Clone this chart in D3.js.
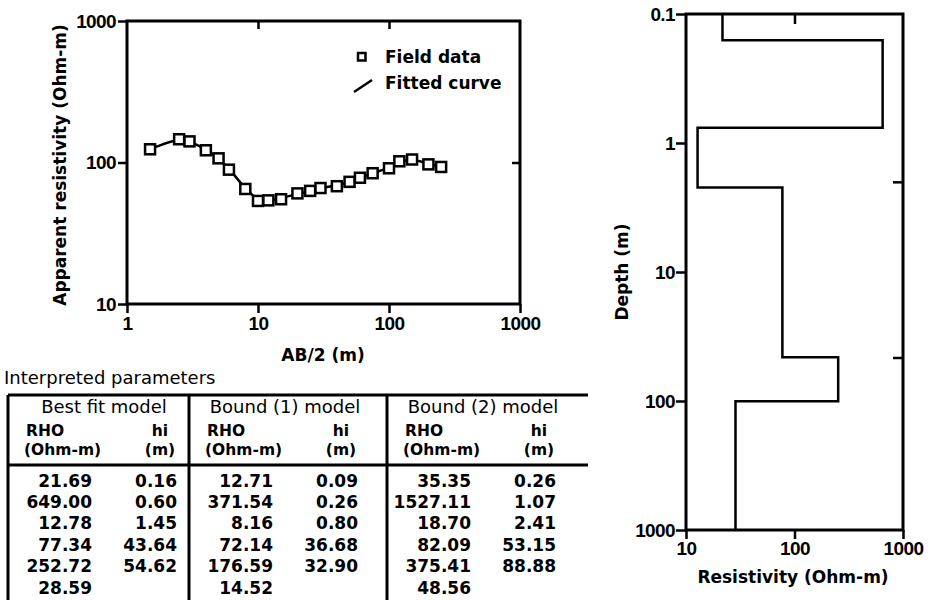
<!DOCTYPE html>
<html>
<head>
<meta charset="utf-8">
<script src="https://cdn.jsdelivr.net/npm/d3@7"></script>
<style>
  html, body { margin: 0; padding: 0; background: #fff; }
  svg { display: block; }
  .tick text { font-family: "Liberation Sans", Arial, sans-serif; font-weight: bold; font-size: 19px; letter-spacing: -0.6px; fill: #000; }
  .tick line { stroke: #000; stroke-width: 2.5px; }
  .title { font-family: "DejaVu Sans", sans-serif; font-weight: bold; font-size: 17px; fill: #000; }
  .tbl-head { font-family: "DejaVu Sans", sans-serif; font-size: 18px; fill: #000; }
  .tbl-sub { font-family: "DejaVu Sans", sans-serif; font-weight: bold; font-size: 15.5px; fill: #000; }
  .tbl-num { font-family: "DejaVu Sans", sans-serif; font-weight: bold; font-size: 17px; fill: #000; }
</style>
</head>
<body>
<svg id="chart" width="930" height="600"></svg>
<script>
// ---------------- data ----------------
const fieldAB  = [1.5, 2.5, 3, 4, 5, 6, 8, 10, 12, 15, 20, 25, 30, 40, 50, 60, 75, 100, 120, 150, 200, 250];
const fieldRho = [124, 146, 141, 122, 107, 89, 65, 53.5, 54, 55, 60.5, 63, 66, 68, 73, 78, 84, 91, 102, 105, 97, 93];
const fitAB    = [1.5, 2.5, 3, 4, 5, 6, 8, 10, 12, 15, 20, 25, 30, 40, 50, 60, 75, 100, 120, 150, 200, 250];
const fitRho   = [124, 144, 140, 123, 106, 90, 66, 55, 54, 56, 60, 63, 66, 69, 73, 78, 84, 92, 100, 104, 98, 93];
const soundXTicks = [1, 10, 100, 1000];
const soundYTicks = [10, 100, 1000];
const soundTopTicks = [10, 100];
const soundRightTicks = [100];

const layerRho = [21.69, 649.00, 12.78, 77.34, 252.72, 28.59];
const layerH   = [0.16, 0.60, 1.45, 43.64, 54.62];
const resTicks = [10, 100, 1000];
const depthTicks = [0.1, 1, 10, 100, 1000];
const resTopTicks = [100];
const depthRightTicks = [2, 46];

const modelNames = ["Best fit model", "Bound (1) model", "Bound (2) model"];
const bestRho  = [21.69, 649.00, 12.78, 77.34, 252.72, 28.59];
const bestH    = [0.16, 0.60, 1.45, 43.64, 54.62];
const bound1Rho = [12.71, 371.54, 8.16, 72.14, 176.59, 14.52];
const bound1H   = [0.09, 0.26, 0.80, 36.68, 32.90];
const bound2Rho = [35.35, 1527.11, 18.70, 82.09, 375.41, 48.56];
const bound2H   = [0.26, 1.07, 2.41, 53.15, 88.88];

// ---------------- drawing ----------------
const svg = d3.select("#chart");
const fmtTick = d => String(d);

// ===== Sounding curve (top-left) =====
const sx = d3.scaleLog().domain([1, 1000]).range([127, 520]);
const sy = d3.scaleLog().domain([10, 1000]).range([304, 21]);

const gS = svg.append("g");
gS.append("g").attr("transform", "translate(0,304)")
  .call(d3.axisBottom(sx).tickValues(soundXTicks).tickFormat(fmtTick).tickSize(9).tickPadding(4))
  .call(g => g.select(".domain").remove());
gS.append("g").attr("transform", "translate(127,0)")
  .call(d3.axisLeft(sy).tickValues(soundYTicks).tickFormat(fmtTick).tickSize(9).tickPadding(2))
  .call(g => g.select(".domain").remove());
gS.append("g").attr("transform", "translate(0,21)")
  .call(d3.axisTop(sx).tickValues(soundTopTicks).tickFormat("").tickSize(-8))
  .call(g => g.select(".domain").remove());
gS.append("g").attr("transform", "translate(520,0)")
  .call(d3.axisRight(sy).tickValues(soundRightTicks).tickFormat("").tickSize(-8))
  .call(g => g.select(".domain").remove());
gS.append("rect").attr("x", 127).attr("y", 21).attr("width", 520 - 127).attr("height", 304 - 21)
  .attr("fill", "none").attr("stroke", "#000").attr("stroke-width", 3);

const fitData = fitAB.map((a, i) => [a, fitRho[i]]);
gS.append("path").datum(fitData)
  .attr("fill", "none").attr("stroke", "#000").attr("stroke-width", 2.5)
  .attr("d", d3.line().x(d => sx(d[0])).y(d => sy(d[1])).curve(d3.curveCatmullRom));

const fieldData = fieldAB.map((a, i) => [a, fieldRho[i]]);
gS.selectAll("rect.pt").data(fieldData).enter().append("rect").attr("class", "pt")
  .attr("x", d => sx(d[0]) - 5).attr("y", d => sy(d[1]) - 5)
  .attr("width", 10).attr("height", 10)
  .attr("fill", "#fff").attr("stroke", "#000").attr("stroke-width", 2.5);

// legend
gS.append("rect").attr("x", 358).attr("y", 53).attr("width", 7.5).attr("height", 7.5)
  .attr("fill", "#fff").attr("stroke", "#000").attr("stroke-width", 2.5);
gS.append("text").attr("class", "title").attr("x", 385).attr("y", 63).text("Field data");
gS.append("line").attr("x1", 354).attr("y1", 92).attr("x2", 372).attr("y2", 80)
  .attr("stroke", "#000").attr("stroke-width", 2.5);
gS.append("text").attr("class", "title").attr("x", 385).attr("y", 89).text("Fitted curve");

gS.append("text").attr("class", "title").attr("x", 323).attr("y", 361).attr("text-anchor", "middle").text("AB/2 (m)");
gS.append("text").attr("class", "title").attr("text-anchor", "middle")
  .attr("transform", "translate(66,165) rotate(-90)").text("Apparent resistivity (Ohm-m)");

// ===== Layered model (right) =====
const rx = d3.scaleLog().domain([10, 1000]).range([686, 903]);
const ry = d3.scaleLog().domain([0.1, 1000]).range([14, 530]);
const gR = svg.append("g");
gR.append("g").attr("transform", "translate(0,530)")
  .call(d3.axisBottom(rx).tickValues(resTicks).tickFormat(fmtTick).tickSize(9).tickPadding(3))
  .call(g => g.select(".domain").remove());
gR.append("g").attr("transform", "translate(686,0)")
  .call(d3.axisLeft(ry).tickValues(depthTicks).tickFormat(fmtTick).tickSize(10).tickPadding(1))
  .call(g => g.select(".domain").remove());
gR.append("g").attr("transform", "translate(0,14)")
  .call(d3.axisTop(rx).tickValues(resTopTicks).tickFormat("").tickSize(-10))
  .call(g => g.select(".domain").remove());
gR.append("g").attr("transform", "translate(903,0)")
  .call(d3.axisRight(ry).tickValues(depthRightTicks).tickFormat("").tickSize(-10))
  .call(g => g.select(".domain").remove());
gR.append("rect").attr("x", 686).attr("y", 14).attr("width", 903 - 686).attr("height", 530 - 14)
  .attr("fill", "none").attr("stroke", "#000").attr("stroke-width", 3);

// step profile from layer resistivities and thicknesses
const bounds = [0.1];
layerH.forEach((h, i) => bounds.push(d3.sum(layerH.slice(0, i + 1))));
bounds.push(1000);
const stepPts = [];
layerRho.forEach((r, i) => { stepPts.push([r, bounds[i]]); stepPts.push([r, bounds[i + 1]]); });
gR.append("path").datum(stepPts)
  .attr("fill", "none").attr("stroke", "#000").attr("stroke-width", 2.5)
  .attr("d", d3.line().x(d => rx(d[0])).y(d => ry(d[1])));

gR.append("text").attr("class", "title").attr("x", 793).attr("y", 583).attr("text-anchor", "middle").text("Resistivity (Ohm-m)");
gR.append("text").attr("class", "title").attr("text-anchor", "middle")
  .attr("transform", "translate(628,272) rotate(-90)").text("Depth (m)");

// ===== Table =====
const gT = svg.append("g");
gT.append("text").attr("class", "tbl-head").attr("x", 4).attr("y", 384).text("Interpreted parameters");
const colX = [8, 189, 387];
const tableTop = 395, sepY = 465, tableBot = 604;
const models = [[bestRho, bestH], [bound1Rho, bound1H], [bound2Rho, bound2H]];
const f2 = d3.format(".2f");
gT.append("line").attr("x1", 8).attr("x2", 588).attr("y1", tableTop).attr("y2", tableTop).attr("stroke", "#000").attr("stroke-width", 3);
gT.append("line").attr("x1", 8).attr("x2", 588).attr("y1", sepY).attr("y2", sepY).attr("stroke", "#000").attr("stroke-width", 3);
colX.forEach(cx => gT.append("line").attr("x1", cx).attr("x2", cx).attr("y1", tableTop).attr("y2", tableBot).attr("stroke", "#000").attr("stroke-width", 3));

models.forEach((m, k) => {
  const cx = colX[k];
  gT.append("text").attr("class", "tbl-head").attr("x", cx + 96).attr("y", 413).attr("text-anchor", "middle").text(modelNames[k]);
  gT.append("text").attr("class", "tbl-sub").attr("x", cx + 18).attr("y", 436).text("RHO");
  gT.append("text").attr("class", "tbl-sub").attr("x", cx + 16).attr("y", 455).text("(Ohm-m)");
  gT.append("text").attr("class", "tbl-sub").attr("x", cx + 152).attr("y", 436).attr("text-anchor", "middle").text("hi");
  gT.append("text").attr("class", "tbl-sub").attr("x", cx + 152).attr("y", 455).attr("text-anchor", "middle").text("(m)");
  m[0].forEach((v, i) => {
    gT.append("text").attr("class", "tbl-num").attr("x", cx + 84).attr("y", 486.5 + i * 21.4).attr("text-anchor", "end").text(f2(v));
  });
  m[1].forEach((v, i) => {
    gT.append("text").attr("class", "tbl-num").attr("x", cx + 169).attr("y", 486.5 + i * 21.4).attr("text-anchor", "end").text(f2(v));
  });
});
</script>
</body>
</html>
